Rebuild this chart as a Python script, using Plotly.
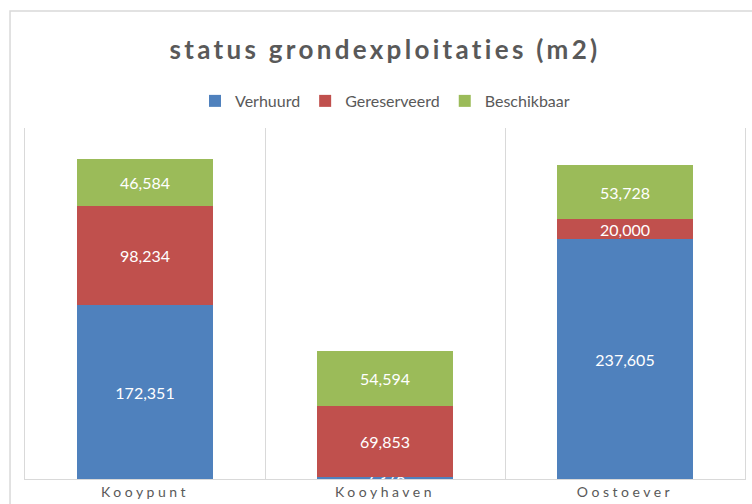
import plotly.graph_objects as go

categories = ["Kooypunt", "Kooyhaven", "Oostoever"]
verhuurd = [172351, 2376, 237605]
gereserveerd = [98234, 69853, 20000]
beschikbaar = [46584, 54594, 53728]

series = [
    ("Verhuurd", verhuurd, "#4F81BD"),
    ("Gereserveerd", gereserveerd, "#C0504D"),
    ("Beschikbaar", beschikbaar, "#9BBB59"),
]

FONT = "Lato"
GREY = "#595959"

fig = go.Figure()
for name, vals, col in series:
    fig.add_trace(go.Bar(
        name=name, x=categories, y=vals, marker_color=col,
        marker_line_width=0,
        texttemplate="%{y:,.0f}", textposition="inside",
        insidetextanchor="middle", textangle=0,
        textfont=dict(family=FONT, size=16, color="white"),
        cliponaxis=True,
    ))

fig.update_layout(
    barmode="stack",
    bargap=0.433,
    width=752, height=504,
    margin=dict(l=25, r=7, t=128, b=25, autoexpand=False),
    paper_bgcolor="white", plot_bgcolor="white",
    font=dict(family=FONT, color=GREY),
    uniformtext=dict(mode="show", minsize=16),
    title=dict(text="<b>status grondexploitaties (m2)</b>",
               x=0.5, xref="paper", xanchor="center",
               y=1 - 50 / 504, yref="container", yanchor="middle",
               font=dict(family=FONT, size=26, color=GREY)),
    legend=dict(orientation="h", x=0.5, xanchor="center",
                y=1.077, yanchor="middle",
                font=dict(family=FONT, size=16, color=GREY),
                itemwidth=30, traceorder="normal"),
    showlegend=True,
    xaxis=dict(tickson="boundaries", showgrid=True, gridcolor="#d9d9d9",
               gridwidth=1, showline=True, linecolor="#d9d9d9", ticks="",
               tickfont=dict(family=FONT, size=14, color=GREY),
               range=[-0.5, 2.5], automargin=False),
    yaxis=dict(range=[0, 348000], showticklabels=False, showgrid=False,
               zeroline=False, showline=True, mirror=True,
               linecolor="#d9d9d9", ticks="", automargin=False),
    shapes=[dict(type="rect", xref="paper", yref="paper",
                 x0=-0.0208, x1=1.2, y0=-0.3, y1=1.333,
                 line=dict(color="#d9d9d9", width=1.5), layer="below")],
)

post = """
document.body.style.margin = '0';
document.body.style.overflow = 'hidden';
var gd = document.getElementById('{plot_id}');
function sp(){
  gd.querySelectorAll('.xtick text').forEach(function(t){t.setAttribute('letter-spacing','3.5px');});
  var g = gd.querySelector('.gtitle'); if (g) g.setAttribute('letter-spacing','3.3px');
}
sp(); gd.on('plotly_afterplot', sp);
"""
fig.write_html("out.html", post_script=post, config={"displayModeBar": False})
